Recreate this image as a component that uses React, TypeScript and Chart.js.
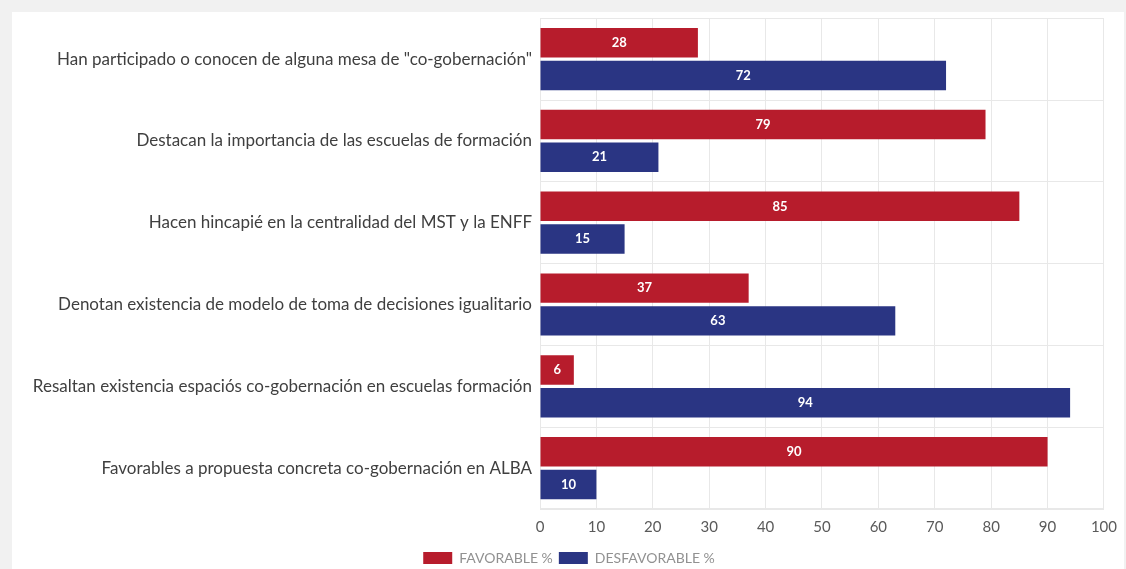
import React, { useEffect, useRef } from "react";
import { Chart, registerables } from "chart.js";

Chart.register(...registerables);

const categories: string[] = [
  'Han participado o conocen de alguna mesa de "co-gobernación"',
  "Destacan la importancia de las escuelas de formación",
  "Hacen hincapié en la centralidad del MST y la ENFF",
  "Denotan existencia de modelo de toma de decisiones igualitario",
  "Resaltan existencia espaciós co-gobernación en escuelas formación",
  "Favorables a propuesta concreta co-gobernación en ALBA",
];

const favorable: number[] = [28, 79, 85, 37, 6, 90];
const desfavorable: number[] = [72, 21, 15, 63, 94, 10];

const seriesNames: string[] = ["FAVORABLE %", "DESFAVORABLE %"];
const xTicks: number[] = [0, 10, 20, 30, 40, 50, 60, 70, 80, 90, 100];

const RED = "#b71c2c";
const BLUE = "#2a3583";
const GRID = "#e8e8e8";

const valueLabels = {
  id: "valueLabels",
  afterDatasetsDraw(chart: any) {
    const ctx = chart.ctx;
    ctx.save();
    ctx.font = "bold 13px Lato";
    ctx.fillStyle = "#ffffff";
    ctx.textAlign = "center";
    ctx.textBaseline = "middle";
    chart.data.datasets.forEach((ds: any, di: number) => {
      const meta = chart.getDatasetMeta(di);
      meta.data.forEach((bar: any, i: number) => {
        const cx = (bar.x + bar.base) / 2;
        ctx.fillText(String(ds.data[i]), cx, bar.y);
      });
    });
    ctx.restore();
  },
};

export default function App() {
  const ref = useRef<HTMLCanvasElement | null>(null);

  useEffect(() => {
    if (!ref.current) return;
    const chart = new Chart(ref.current, {
      type: "bar",
      data: {
        labels: categories,
        datasets: [
          { label: seriesNames[0], data: favorable, backgroundColor: RED, borderWidth: 0 },
          { label: seriesNames[1], data: desfavorable, backgroundColor: BLUE, borderWidth: 0 },
        ],
      },
      options: {
        indexAxis: "y",
        responsive: false,
        animation: false,
        layout: { padding: { left: 28, right: 16, top: 16, bottom: 0 } },
        plugins: {
          tooltip: { enabled: false },
          legend: {
            position: "bottom",
            labels: {
              boxWidth: 29,
              boxHeight: 12,
              padding: 6,
              color: "#919191",
              font: { family: "Lato", size: 14 },
            },
          },
        },
        scales: {
          x: {
            min: 0,
            max: 100,
            afterBuildTicks: (s: any) => {
              s.ticks = xTicks.map((v) => ({ value: v }));
            },
            afterFit: (s: any) => {
              s.height = 36;
            },
            grid: { color: GRID, drawTicks: false },
            border: { color: GRID },
            ticks: {
              padding: 9,
              color: "#5a5a5a",
              font: { family: "Lato", size: 15 },
            },
          },
          y: {
            afterFit: (s: any) => {
              s.width = 512;
            },
            grid: { color: GRID, drawTicks: false, offset: true },
            border: { display: false },
            ticks: {
              padding: 8,
              color: "#3f3f3f",
              font: { family: "Lato", size: 17 },
            },
          },
        },
      },
      plugins: [valueLabels],
    });
    return () => chart.destroy();
  }, []);

  return (
    <div
      style={{
        position: "fixed",
        left: 0,
        top: 0,
        width: 1126,
        height: 569,
        overflow: "hidden",
        background: "#f1f1f1",
      }}
    >
      <div
        style={{
          position: "absolute",
          left: 12,
          top: 12,
          right: 2,
          bottom: 0,
          background: "#ffffff",
        }}
      />
      <canvas
        ref={ref}
        width={1126}
        height={575}
        style={{ position: "absolute", left: 0, top: 0, width: 1126, height: 575 }}
      />
    </div>
  );
}
